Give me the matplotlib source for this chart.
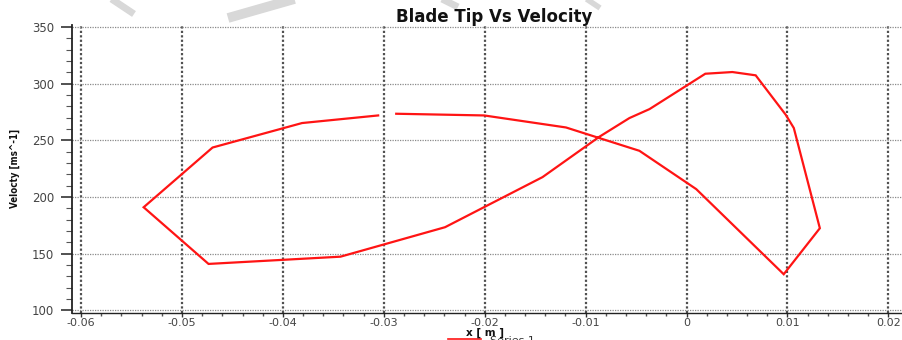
import matplotlib
matplotlib.use('Agg')
import matplotlib.pyplot as plt
from matplotlib.lines import Line2D
from matplotlib.ticker import MultipleLocator

# blade tip x position [m] and velocity [m/s] around one cycle
x_m = [-0.02877, -0.02006, -0.01195, -0.00467, 0.00096, 0.00963, 0.01321,
       0.01063, 0.00983, 0.00685, 0.00454, 0.00186, -0.00367, -0.00566,
       -0.00864, -0.01427, -0.02393, -0.03429, -0.04737, -0.0538, -0.04697,
       -0.0381, -0.03056]
velocity = [273.5, 272.0, 261.4, 240.8, 207.0, 131.9, 172.5,
            260.9, 272.6, 307.4, 310.3, 308.8, 277.6, 269.7,
            253.2, 217.6, 173.4, 147.4, 141.0, 191.0, 243.7,
            265.3, 272.0]

x_ticks = [-0.06, -0.05, -0.04, -0.03, -0.02, -0.01, 0, 0.01, 0.02]
x_tick_labels = ['-0.06', '-0.05', '-0.04', '-0.03', '-0.02', '-0.01', '0', '0.01', '0.02']
y_ticks = [100, 150, 200, 250, 300, 350]

W, H = 903, 340
fig = plt.figure(figsize=(W / 100, H / 100), dpi=100)
ax = fig.add_axes([72 / W, (H - 313) / H, (W - 72) / W, 288 / H])

ax.plot(x_m, velocity, color='#ff1414', lw=1.6, solid_joinstyle='miter')

ax.set_xlim(-0.0609, 0.02145)
ax.set_ylim(97.7, 351.8)

ax.set_xticks(x_ticks)
ax.set_xticklabels(x_tick_labels)
ax.set_yticks(y_ticks)
ax.xaxis.set_minor_locator(MultipleLocator(0.002))
ax.yaxis.set_minor_locator(MultipleLocator(10))

ax.grid(axis='x', which='major', color='#505050', linestyle=(0, (1, 1)), lw=1.6)
ax.grid(axis='y', which='major', color='#8a8a8a', linestyle=(0, (1, 1)), lw=0.9)

for side in ['top', 'right']:
    ax.spines[side].set_visible(False)
ax.spines['left'].set_color('#222222')
ax.spines['bottom'].set_color('#222222')
ax.spines['left'].set_linewidth(1.3)
ax.spines['bottom'].set_linewidth(1.0)

ax.tick_params(axis='y', which='major', length=8, width=1.2, color='#333333',
               labelsize=8.5, labelcolor='#444444', pad=5)
ax.tick_params(axis='y', which='minor', length=4, width=0.8, color='#555555')
ax.tick_params(axis='x', which='major', length=3, width=1.0, color='#333333',
               labelsize=8, labelcolor='#444444', pad=0.5)
ax.tick_params(axis='x', which='minor', length=2, width=1.0, color='#555555')

fig.text(494 / W, 1 - 17 / H, 'Blade Tip Vs Velocity', ha='center', va='center',
         fontsize=12, fontweight='bold', color='#111111')
fig.text(485 / W, 1 - 333 / H, 'x [ m ]', ha='center', va='center',
         fontsize=7.5, fontweight='bold', color='#111111')
fig.text(15 / W, 1 - 168 / H, 'Velocty [ms^-1]', ha='center', va='center',
         rotation=90, fontsize=7, fontweight='bold', fontstretch='condensed',
         color='#111111')

# legend entry at the bottom edge
fig.add_artist(Line2D([448 / W, 481 / W], [1 - 338.5 / H, 1 - 338.5 / H],
                      color='#ff1414', lw=1.2))
fig.text(490 / W, 1 - 335.5 / H, 'Series 1', ha='left', va='top',
         fontsize=8, color='#333333')

# faint grey strokes across the top strip
for (x0, y0, x1, y1, w) in [(110, -2, 134, 14, 5), (298, -2, 228, 18, 7),
                            (440, -2, 458, 7, 5), (585, -2, 600, 8, 4)]:
    fig.add_artist(Line2D([x0 / W, x1 / W], [1 - y0 / H, 1 - y1 / H],
                          color='#d8d8d8', lw=w, solid_capstyle='butt'))

fig.savefig('out.png', dpi=100)
